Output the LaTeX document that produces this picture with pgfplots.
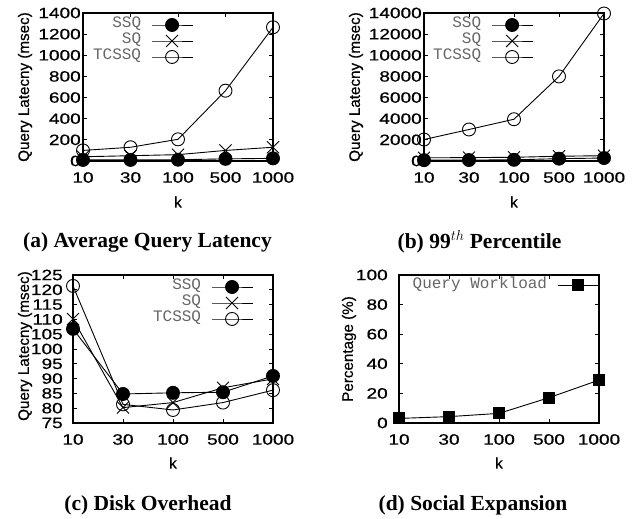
\documentclass[border=0pt]{standalone}
\usepackage{fontspec}
\setmainfont{Liberation Sans}
\newfontfamily\gpsans[FakeBold=0.6]{Liberation Sans}
\newfontfamily\capserif{Liberation Serif}
\newfontfamily\legmono{Liberation Mono}
\usepackage{pgfplots}
\pgfplotsset{compat=1.18}
\definecolor{legtext}{gray}{0.4}
\newcommand\tickfont{\gpsans\fontsize{15}{15}\selectfont}
\newcommand\labfont{\gpsans\fontsize{15.2}{15.2}\selectfont}
\newcommand\legfont{\legmono\fontsize{16}{16}\selectfont}
\newcommand\capfont{\capserif\bfseries\fontsize{21.5}{21.5}\selectfont}
\pgfplotsset{
 gp/.style={
  scale only axis, height=148pt,
  xmin=0, xmax=4, xtick={0,1,2,3,4}, xticklabels={10,30,100,500,1000},
  tick align=inside, major tick length=4pt,
  tick style={black, line width=0.8pt},
  axis line style={black, line width=1.2pt},
  clip=false,
  scaled y ticks=false,
  /pgf/number format/1000 sep={},
  /pgf/number format/assume math mode=true,
  tick label style={font=\tickfont, inner sep=0pt, xscale=1.27},
  xticklabel style={anchor=north},
  xticklabel shift=11pt,
  yticklabel style={anchor=east},
  label style={font=\labfont},
  xlabel={k},
  every axis plot/.append style={black, line width=0.9pt},
  every mark/.append style={solid, line width=0.9pt},
  legend plot pos=right,
  legend cell align=right,
  legend style={draw=none, fill=none, inner sep=0pt, outer sep=0pt, anchor=north east,
     font=\legfont, text=legtext, row sep=0pt,
     nodes={inner sep=0pt, text height=11pt, text depth=5pt},
     /tikz/every odd column/.append style={column sep=10pt}},
  legend image code/.code={\draw[mark repeat=2,mark phase=2,##1] plot coordinates {(0pt,0pt) (20.5pt,0pt) (41pt,0pt)};},
 },
 ssq/.style={mark=*, mark size=6.5pt, mark options={fill=black}},
 sq/.style={mark=x, mark size=8.5pt},
 tcssq/.style={mark=o, mark size=6.5pt},
}
\begin{document}
\begin{tikzpicture}
\useasboundingbox (0,0) rectangle (641pt,519pt);
% (a)
\begin{axis}[gp, at={(83pt,358pt)}, anchor=south west, width=190pt,
  ymin=0, ymax=1400, ytick={0,200,...,1400},
  yticklabel shift=2pt,
  ylabel={Query Latecny (msec)},
  ylabel style={at={(axis description cs:-0.305,0.5)}, anchor=center},
  xlabel style={at={(axis description cs:0.5,-0.277)}, anchor=center},
  legend style={at={(axis description cs:0.579,0.973)}}]
\addplot[ssq] coordinates {(0,10)(1,10)(2,12)(3,20)(4,25)};
\addlegendentry{SSQ}
\addplot[sq] coordinates {(0,40)(1,50)(2,60)(3,100)(4,130)};
\addlegendentry{SQ}
\addplot[tcssq] coordinates {(0,100)(1,130)(2,205)(3,665)(4,1265)};
\addlegendentry{TCSSQ}
\end{axis}
% (b)
\begin{axis}[gp, at={(424pt,358pt)}, anchor=south west, width=180pt,
  ymin=0, ymax=14000, ytick={0,2000,...,14000},
  yticklabel shift=2pt,
  ylabel={Query Latecny (msec)},
  ylabel style={at={(axis description cs:-0.378,0.5)}, anchor=center},
  xlabel style={at={(axis description cs:0.5,-0.277)}, anchor=center},
  legend style={at={(axis description cs:0.606,0.973)}}]
\addplot[ssq] coordinates {(0,80)(1,90)(2,110)(3,220)(4,280)};
\addlegendentry{SSQ}
\addplot[sq] coordinates {(0,300)(1,320)(2,350)(3,450)(4,500)};
\addlegendentry{SQ}
\addplot[tcssq] coordinates {(0,2030)(1,2980)(2,3950)(3,8000)(4,13950)};
\addlegendentry{TCSSQ}
\end{axis}
% (c)
\begin{axis}[gp, at={(73pt,96pt)}, anchor=south west, width=200pt,
  ymin=75, ymax=125, ytick={75,80,...,125},
  yticklabel shift=10pt,
  ylabel={Query Latecny (msec)},
  ylabel style={at={(axis description cs:-0.24,0.52)}, anchor=center},
  xlabel style={at={(axis description cs:0.5,-0.27)}, anchor=center},
  legend style={at={(axis description cs:0.9,0.973)}}]
\addplot[ssq] coordinates {(0,106.8)(1,84.8)(2,85.2)(3,85.4)(4,90.9)};
\addlegendentry{SSQ}
\addplot[sq] coordinates {(0,110.1)(1,80.2)(2,81.9)(3,86.9)(4,89.9)};
\addlegendentry{SQ}
\addplot[tcssq] coordinates {(0,121.3)(1,81.3)(2,79.4)(3,81.9)(4,86.1)};
\addlegendentry{TCSSQ}
\end{axis}
% (d)
\begin{axis}[gp, at={(399pt,96pt)}, anchor=south west, width=200pt,
  ymin=0, ymax=100, ytick={0,20,...,100},
  yticklabel shift=11pt,
  ylabel={Percentage (\%)},
  ylabel style={at={(axis description cs:-0.25,0.5)}, anchor=center},
  xlabel style={at={(axis description cs:0.5,-0.27)}, anchor=center},
  legend style={at={(axis description cs:1.0,0.986)}}]
\addplot[mark=square*, mark size=5.5pt, mark options={fill=black}] coordinates {(0,3.1)(1,4.3)(2,6.5)(3,17.1)(4,29)};
\addlegendentry{Query Workload}
\end{axis}
\node[font=\capfont] at (147.5pt,277pt) {(a) Average Query Latency};
\node[font=\capfont] at (479.5pt,277pt) {(b) 99$^{th}$ Percentile};
\node[font=\capfont] at (148pt,14pt) {(c) Disk Overhead};
\node[font=\capfont] at (473pt,14pt) {(d) Social Expansion};
\end{tikzpicture}
\end{document}
